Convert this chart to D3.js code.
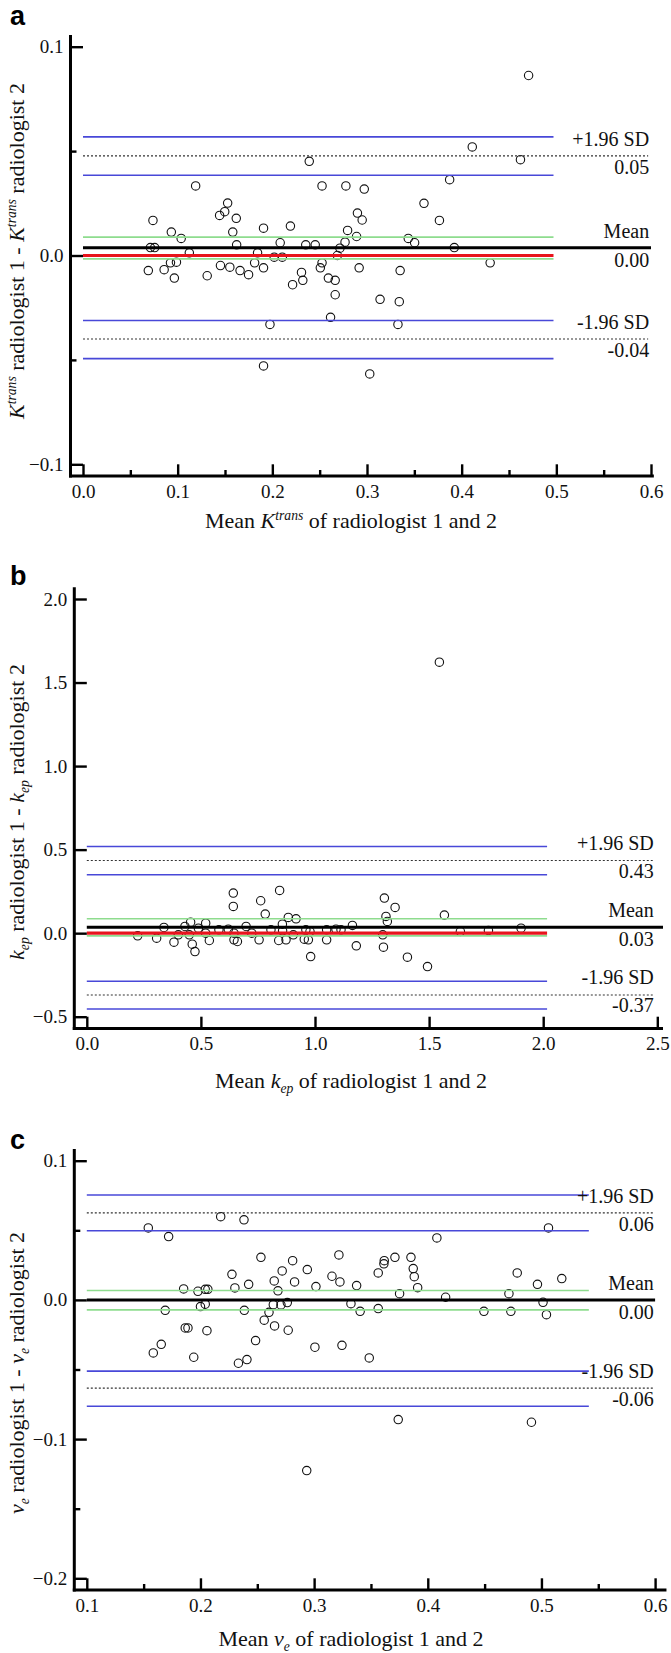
<!DOCTYPE html>
<html><head><meta charset="utf-8">
<script src="https://cdn.jsdelivr.net/npm/d3@7"></script>
<style>body{margin:0;background:#fff}svg{display:block}</style>
</head><body>
<svg id="chart" width="671" height="1653"></svg>
<script>
// ---------- DATA ----------
// Panel a: Ktrans
const aMean = [0.4707,0.4112,0.4621,0.2390,0.3873,0.1190,0.2525,0.2777,0.2971,0.3602,0.1528,0.1497,0.1443,0.1619,0.0739,0.2899,0.2949,0.3765,0.0933,0.1037,0.1582,0.1907,0.2191,0.2795,0.2890,0.3436,0.3503,0.0712,0.0757,0.1623,0.2083,0.2353,0.2453,0.2768,0.2714,0.3922,0.1123,0.1844,0.2687,0.2020,0.2105,0.2525,0.4301,0.0690,0.0857,0.0924,0.0987,0.0965,0.1312,0.1452,0.1551,0.1659,0.1749,0.1813,0.1907,0.2214,0.2308,0.2322,0.2507,0.2592,0.2664,0.2664,0.2917,0.3350,0.3138,0.3341,0.2615,0.1975,0.3327,0.1907,0.3029];
const aDiff = [0.0862,0.0520,0.0459,0.0451,0.0363,0.0333,0.0333,0.0333,0.0318,0.0250,0.0251,0.0210,0.0192,0.0178,0.0168,0.0203,0.0170,0.0168,0.0112,0.0082,0.0112,0.0131,0.0141,0.0120,0.0091,0.0082,0.0061,0.0038,0.0038,0.0051,0.0061,0.0051,0.0051,0.0064,0.0035,0.0038,0.0013,0.0013,0.0000,-0.0008,-0.0008,-0.0035,-0.0035,-0.0072,-0.0068,-0.0035,-0.0032,-0.0108,-0.0097,-0.0048,-0.0056,-0.0072,-0.0092,-0.0035,-0.0059,-0.0140,-0.0081,-0.0119,-0.0059,-0.0108,-0.0119,-0.0188,-0.0059,-0.0072,-0.0210,-0.0221,-0.0296,-0.0330,-0.0330,-0.0529,-0.0567];
const aUpperSD = 0.0477, aUpperCI = [0.0568, 0.0384];
const aMeanDiff = 0.0037, aMeanCI = [0.0088, -0.0016];
const aLowerSD = -0.0400, aLowerCI = [-0.0311, -0.0494];
const aLabels = ["+1.96 SD", "0.05", "Mean", "0.00", "-1.96 SD", "-0.04"];
const aXTicks = [0, 0.1, 0.2, 0.3, 0.4, 0.5, 0.6];
const aYTicks = [0.1, 0.0, -0.1];

// Panel b: kep
const bMean = [0.223,0.306,0.338,0.382,0.401,0.430,0.455,0.449,0.462,0.474,0.489,0.521,0.521,0.537,0.579,0.620,0.642,0.642,0.645,0.660,0.645,0.698,0.723,0.755,0.762,0.782,0.807,0.845,0.841,0.857,0.858,0.873,0.883,0.905,0.917,0.953,0.971,0.981,0.978,0.960,1.051,1.051,1.092,1.114,1.164,1.181,1.297,1.300,1.304,1.311,1.317,1.351,1.405,1.493,1.567,1.637,1.760,1.903,1.545];
const bDiff = [-0.016,-0.030,0.034,-0.054,-0.010,0.040,0.066,-0.010,-0.066,-0.110,0.030,0.060,0.000,-0.044,0.020,0.024,0.240,0.160,-0.040,-0.050,0.000,0.040,0.000,-0.040,0.194,0.114,0.020,0.256,-0.044,0.054,0.014,-0.040,0.094,-0.010,0.086,-0.036,-0.040,-0.140,0.010,0.020,-0.040,0.020,0.024,0.020,0.046,-0.076,-0.010,-0.084,0.210,0.100,0.070,0.154,-0.144,-0.200,0.108,0.010,0.016,0.030,1.622];
const bUpperSD = 0.435, bUpperCI = [0.519, 0.350];
const bMeanDiff = 0.036, bMeanCI = [0.086, -0.016];
const bLowerSD = -0.370, bLowerCI = [-0.288, -0.454];
const bLabels = ["+1.96 SD", "0.43", "Mean", "0.03", "-1.96 SD", "-0.37"];
const bXTicks = [0, 0.5, 1.0, 1.5, 2.0, 2.5];
const bYTicks = [2.0, 1.5, 1.0, 0.5, 0.0, -0.5];

// Panel c: ve
const cMean = [0.1541,0.1720,0.2178,0.2383,0.2532,0.2811,0.2277,0.2719,0.2649,0.2828,0.1852,0.1978,0.2042,0.2065,0.2303,0.2424,0.2682,0.1690,0.2000,0.2042,0.2386,0.2641,0.2708,0.2764,0.2603,0.2561,0.2652,0.2772,0.1866,0.1890,0.2057,0.1655,0.1585,0.1941,0.2485,0.2334,0.2409,0.3007,0.3245,0.3485,0.2940,0.3016,0.3157,0.3218,0.3227,0.3374,0.3324,0.3405,0.3564,0.3564,0.3617,0.3614,0.3711,0.3752,0.3852,0.3872,0.3881,0.3911,0.4080,0.4157,0.4494,0.4714,0.4731,0.4787,0.4965,0.5014,0.5044,0.5179,0.5062,0.2935,0.3740,0.4912];
const cDiff = [0.0517,0.0455,0.0598,0.0575,0.0306,0.0282,0.0184,0.0208,0.0136,0.0129,0.0079,0.0062,0.0076,0.0076,0.0086,0.0112,0.0065,-0.0075,-0.0048,-0.0031,-0.0075,-0.0034,-0.0036,-0.0019,-0.0089,-0.0146,-0.0187,-0.0218,-0.0201,-0.0201,-0.0221,-0.0319,-0.0381,-0.0412,-0.0292,-0.0455,-0.0429,-0.0340,-0.0326,-0.0417,0.0218,0.0096,0.0170,0.0323,0.0129,0.0103,-0.0027,-0.0082,0.0194,-0.0062,0.0282,0.0259,0.0306,0.0045,0.0306,0.0225,0.0167,0.0088,0.0445,0.0019,-0.0082,0.0045,-0.0082,0.0194,0.0112,-0.0017,-0.0106,0.0153,0.0517,-0.1226,-0.0860,-0.0879];
const cUpperSD = 0.0625, cUpperCI = [0.0754, 0.0497];
const cMeanDiff = 0.0, cMeanCI = [0.0067, -0.0072];
const cLowerSD = -0.0634, cLowerCI = [-0.0512, -0.0764];
const cLabels = ["+1.96 SD", "0.06", "Mean", "0.00", "-1.96 SD", "-0.06"];
const cXTicks = [0.1, 0.2, 0.3, 0.4, 0.5, 0.6];
const cYTicks = [0.1, 0.0, -0.1, -0.2];

// ---------- DRAWING ----------
const svg = d3.select("#chart");
const SERIF = "'Liberation Serif','Times New Roman',serif";
const BLUE = "#4848d8", GREEN = "#8edc8e", RED = "#e8141c";

function richText(sel, parts, size) {
  parts.forEach(([t, s]) => {
    const ts = sel.append("tspan").text(t);
    if (s === 'i') ts.attr("font-style", "italic");
    if (s === 'sup') ts.attr("font-style", "italic").attr("font-size", size * 0.62).attr("dy", -size * 0.38);
    if (s === 'sub') ts.attr("font-style", "italic").attr("font-size", size * 0.62).attr("dy", size * 0.22);
    if (s === 'after-sup') ts.attr("dy", size * 0.38);
    if (s === 'after-sub') ts.attr("dy", -size * 0.22);
  });
}

function panel(p) {
  const g = svg.append("g");
  const x = d3.scaleLinear().domain(p.xDom).range(p.xRange);
  const y = d3.scaleLinear().domain(p.yDom).range(p.yRange);
  const ax = p.xRange[0] - 12.5;           // y-axis position
  const ay = p.yRange[0] + 11.7;           // x-axis position

  // points (drawn under lines)
  g.append("g").selectAll("circle").data(p.mean.map((m, i) => [m, p.diff[i]]))
    .join("circle")
    .attr("cx", d => x(d[0])).attr("cy", d => y(d[1]))
    .attr("r", 4.2).attr("fill", "none").attr("stroke", "#111").attr("stroke-width", 1.1);

  const hline = (v, x1, x2, color, w, dash) => {
    const l = g.append("line").attr("x1", x(x1)).attr("x2", x(x2))
      .attr("y1", y(v)).attr("y2", y(v)).attr("stroke", color).attr("stroke-width", w);
    if (dash) l.attr("stroke-dasharray", dash);
  };
  const x0 = p.xDom[0];
  p.upperCI.concat(p.lowerCI).forEach(v => hline(v, x0, p.ciEnd, BLUE, 1.6));
  p.meanCI.forEach(v => hline(v, x0, p.ciEnd, GREEN, 1.6));
  hline(p.upperSD, x0, p.dotEnd, "#333", 1.1, "2,2");
  hline(p.lowerSD, x0, p.dotEnd, "#333", 1.1, "2,2");
  hline(p.meanDiff, x0, p.meanEnd, "#000", 3);
  if (p.red) hline(0, x0, p.ciEnd, RED, 3.2);

  // right-side labels
  const tx = x(p.dotEnd) + 1;
  const lab = (t, yy) => g.append("text").attr("x", tx).attr("y", yy).attr("text-anchor", "end")
    .attr("font-family", SERIF).attr("font-size", 20).attr("fill", "#111").text(t);
  lab(p.labels[0], y(p.upperSD) - 10);
  lab(p.labels[1], y(p.upperSD) + 18);
  lab(p.labels[2], y(p.meanDiff) - 10);
  lab(p.labels[3], y(p.meanDiff) + 19);
  lab(p.labels[4], y(p.lowerSD) - 10.5);
  lab(p.labels[5], y(p.lowerSD) + 17.5);

  // axes
  const fmt = d3.format(".1f");
  g.append("g").attr("transform", `translate(${ax},0)`)
    .call(d3.axisLeft(y).tickValues(p.yTicks).tickSize(-12.5).tickPadding(7).tickFormat(fmt));
  g.append("g").attr("transform", `translate(0,${ay})`)
    .call(d3.axisBottom(x).tickValues(p.xTicks).tickSize(-11.7).tickPadding(8.5).tickFormat(fmt));
  if (p.yMinor.length) g.append("g").attr("transform", `translate(${ax},0)`)
    .call(d3.axisLeft(y).tickValues(p.yMinor).tickSize(-6).tickFormat(""));
  if (p.xMinor.length) g.append("g").attr("transform", `translate(0,${ay})`)
    .call(d3.axisBottom(x).tickValues(p.xMinor).tickSize(-6).tickFormat(""));
  g.selectAll(".domain").remove();
  g.selectAll(".tick line").attr("stroke", "#000").attr("stroke-width", 2.4);
  g.selectAll(".tick text").attr("font-family", SERIF).attr("font-size", 19).attr("fill", "#111");

  g.append("line").attr("x1", ax).attr("x2", ax).attr("y1", p.yRange[1] - 11.7).attr("y2", ay + 1.5)
    .attr("stroke", "#000").attr("stroke-width", 3);
  g.append("line").attr("x1", ax - 1.5).attr("x2", x(p.axisEnd)).attr("y1", ay).attr("y2", ay)
    .attr("stroke", "#000").attr("stroke-width", 3);

  // panel letter
  svg.append("text").attr("x", 10).attr("y", p.letterY).attr("font-family", "'Liberation Sans',Arial,sans-serif")
    .attr("font-weight", "bold").attr("font-size", 27).attr("fill", "#000").text(p.letter);

  // titles
  const xt = g.append("text").attr("x", 351).attr("y", p.xTitleY).attr("text-anchor", "middle")
    .attr("font-family", SERIF).attr("font-size", 22).attr("fill", "#111");
  richText(xt, p.xTitle, 22);
  const yt = g.append("text").attr("transform", `translate(24,${p.yTitleC}) rotate(-90)`)
    .attr("text-anchor", "middle").attr("font-family", SERIF).attr("font-size", 22).attr("fill", "#111");
  richText(yt, p.yTitle, 22);
}

panel({
  letter: "a", letterY: 25,
  xDom: [0, 0.6], xRange: [83, 651], yDom: [-0.1, 0.1], yRange: [464.3, 46.7],
  mean: aMean, diff: aDiff,
  upperSD: aUpperSD, upperCI: aUpperCI, meanDiff: aMeanDiff, meanCI: aMeanCI,
  lowerSD: aLowerSD, lowerCI: aLowerCI, labels: aLabels, red: true,
  ciEnd: 0.497, dotEnd: 0.597, meanEnd: 0.6, axisEnd: 0.603,
  xTicks: aXTicks, yTicks: aYTicks,
  xMinor: [0.05, 0.15, 0.25, 0.35, 0.45, 0.55], yMinor: [0.05, -0.05],
  xTitleY: 528,
  xTitle: [["Mean "], ["K", 'i'], ["trans", 'sup'], [" of radiologist 1 and 2", 'after-sup']],
  yTitleC: 251,
  yTitle: [["K", 'i'], ["trans", 'sup'], [" radiologist 1 - ", 'after-sup'], ["K", 'i'], ["trans", 'sup'], [" radiologist 2", 'after-sup']]
});
panel({
  letter: "b", letterY: 585,
  xDom: [0, 2.5], xRange: [86.8, 657.3], yDom: [-0.5, 2.0], yRange: [1016.7, 599],
  mean: bMean, diff: bDiff,
  upperSD: bUpperSD, upperCI: bUpperCI, meanDiff: bMeanDiff, meanCI: bMeanCI,
  lowerSD: bLowerSD, lowerCI: bLowerCI, labels: bLabels, red: true,
  ciEnd: 2.017, dotEnd: 2.48, meanEnd: 2.525, axisEnd: 2.525,
  xTicks: bXTicks, yTicks: bYTicks, xMinor: [], yMinor: [],
  xTitleY: 1088,
  xTitle: [["Mean "], ["k", 'i'], ["ep", 'sub'], [" of radiologist 1 and 2", 'after-sub']],
  yTitleC: 812,
  yTitle: [["k", 'i'], ["ep", 'sub'], [" radiologist 1 - ", 'after-sub'], ["k", 'i'], ["ep", 'sub'], [" radiologist 2", 'after-sub']]
});
panel({
  letter: "c", letterY: 1149,
  xDom: [0.1, 0.6], xRange: [86.8, 655.1], yDom: [-0.2, 0.1], yRange: [1578.3, 1160.7],
  mean: cMean, diff: cDiff,
  upperSD: cUpperSD, upperCI: cUpperCI, meanDiff: cMeanDiff, meanCI: cMeanCI,
  lowerSD: cLowerSD, lowerCI: cLowerCI, labels: cLabels, red: false,
  ciEnd: 0.5417, dotEnd: 0.598, meanEnd: 0.6, axisEnd: 0.61,
  xTicks: cXTicks, yTicks: cYTicks,
  xMinor: [0.15, 0.25, 0.35, 0.45, 0.55], yMinor: [0.05, -0.05, -0.15],
  xTitleY: 1646,
  xTitle: [["Mean "], ["v", 'i'], ["e", 'sub'], [" of radiologist 1 and 2", 'after-sub']],
  yTitleC: 1373,
  yTitle: [["v", 'i'], ["e", 'sub'], [" radiologist 1 - ", 'after-sub'], ["v", 'i'], ["e", 'sub'], [" radiologist 2", 'after-sub']]
});
</script>
</body></html>
